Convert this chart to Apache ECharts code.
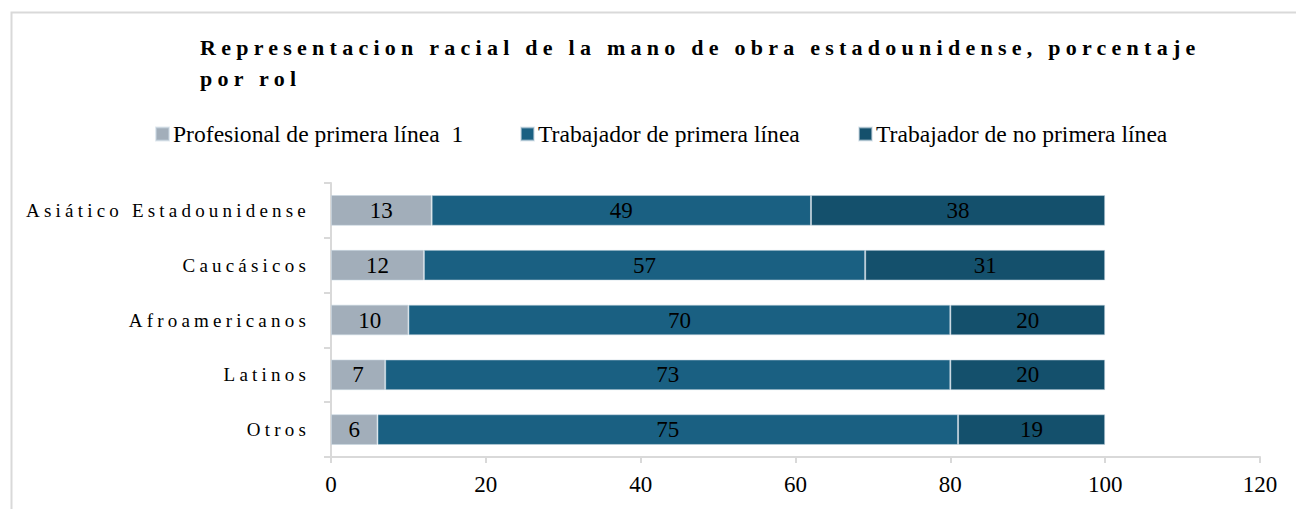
<!DOCTYPE html>
<html>
<head>
<meta charset="utf-8">
<script src="https://cdn.jsdelivr.net/npm/echarts@6/dist/echarts.min.js"></script>
<style>
  html, body { margin: 0; padding: 0; background: #fff; }
  #chart { width: 1296px; height: 509px; }
</style>
</head>
<body>
<div id="chart"></div>
<script>
// Workforce racial representation by role (percent)
const titleLines = ['Representacion racial de la mano de obra estadounidense, porcentaje', 'por rol'];
const categories = ['Asiático Estadounidense', 'Caucásicos', 'Afroamericanos', 'Latinos', 'Otros'];
const seriesNames = ['Profesional de primera línea  1', 'Trabajador de primera línea', 'Trabajador de no primera línea'];
const profesionalPrimera = [13, 12, 10, 7, 6];
const trabajadorPrimera = [49, 57, 70, 73, 75];
const trabajadorNoPrimera = [38, 31, 20, 20, 19];
const xTicks = [0, 20, 40, 60, 80, 100, 120];

const serif = "'Liberation Serif', 'Times New Roman', serif";
const colors = ['#a2aeba', '#1a6082', '#14506c'];
const legendLefts = [155, 520, 858];

const chart = echarts.init(document.getElementById('chart'), null, { renderer: 'svg' });

function barSeries(name, data, color) {
  return {
    name: name,
    type: 'bar',
    stack: 'total',
    data: data,
    barWidth: '56%',
    itemStyle: { color: color, borderColor: 'rgba(200,215,225,0.55)', borderWidth: 1 },
    label: {
      show: true,
      position: 'inside',
      color: '#000',
      fontFamily: serif,
      fontSize: 23
    },
    emphasis: { disabled: true }
  };
}

// one legend block per series so each entry sits at its own x
const legends = seriesNames.map(function (name, i) {
  return {
    left: legendLefts[i],
    top: 122,
    padding: 0,
    itemWidth: 13,
    itemHeight: 13,
    itemGap: 0,
    icon: 'rect',
    selectedMode: false,
    textStyle: { fontFamily: serif, fontSize: 23.6, color: '#000', padding: [0, 0, 0, -1] },
    data: [name]
  };
});

chart.setOption({
  animation: false,
  title: {
    text: titleLines.join('\n'),
    left: 200,
    top: 32,
    padding: 0,
    textStyle: {
      fontFamily: serif,
      fontWeight: 'bold',
      fontSize: 22,
      lineHeight: 31,
      color: '#000'
    }
  },
  legend: legends,
  graphic: [{
    type: 'rect',
    left: 9,
    top: 10,
    shape: { width: 1300, height: 520 },
    style: { fill: 'none', stroke: '#d9d9d9', lineWidth: 2 },
    silent: true
  }],
  grid: { left: 331, right: 36, top: 183, bottom: 52 },
  xAxis: {
    type: 'value',
    min: xTicks[0],
    max: xTicks[xTicks.length - 1],
    interval: 20,
    splitLine: { show: false },
    axisLine: { show: true, lineStyle: { color: '#d9d9d9', width: 2 } },
    axisTick: { show: true, length: 6, lineStyle: { color: '#d9d9d9', width: 2 } },
    axisLabel: { fontFamily: serif, fontSize: 23, color: '#000', margin: 16 }
  },
  yAxis: {
    type: 'category',
    inverse: true,
    data: categories,
    axisLine: { show: true, lineStyle: { color: '#d9d9d9', width: 2 } },
    axisTick: { show: true, length: 7, lineStyle: { color: '#d9d9d9', width: 2 } },
    axisLabel: { fontFamily: serif, fontSize: 19, color: '#000', margin: 21 }
  },
  series: [
    barSeries(seriesNames[0], profesionalPrimera, colors[0]),
    barSeries(seriesNames[1], trabajadorPrimera, colors[1]),
    barSeries(seriesNames[2], trabajadorNoPrimera, colors[2])
  ]
});

// Spaced-out lettering for the title and the category names
function spaceText() {
  chart.getDom().querySelectorAll('text').forEach(function (t) {
    const s = t.textContent;
    if (titleLines.indexOf(s) >= 0) t.style.letterSpacing = '5.25px';
    else if (categories.indexOf(s) >= 0) t.style.letterSpacing = '4.2px';
  });
}
chart.on('finished', spaceText);
spaceText();
</script>
</body>
</html>
